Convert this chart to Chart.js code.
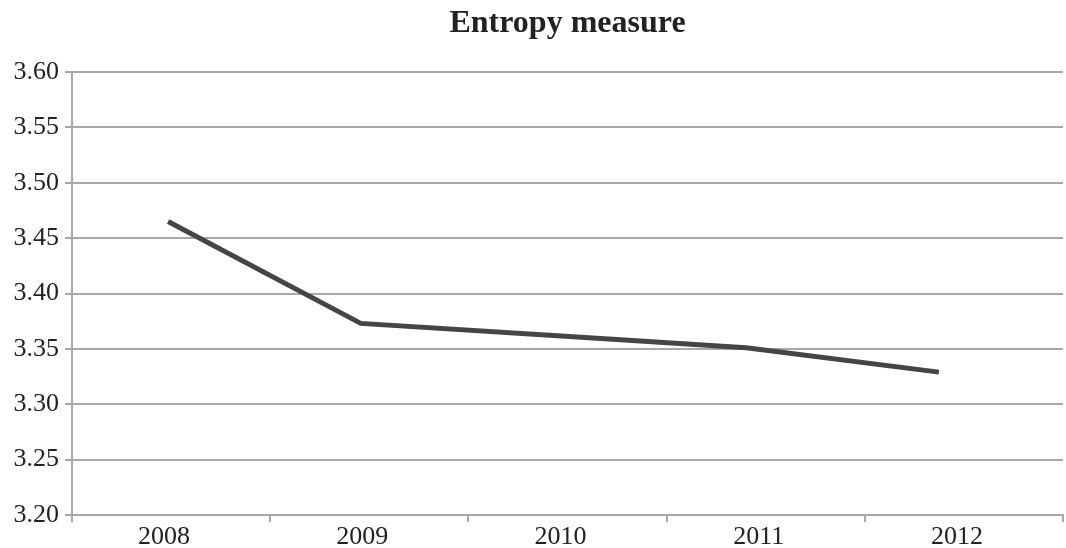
<!DOCTYPE html>
<html>
<head>
<meta charset="utf-8">
<script src="https://cdn.jsdelivr.net/npm/chart.js@4"></script>
<style>
html,body{margin:0;padding:0;background:#fff;}
#wrap{width:1066px;height:548px;position:relative;}
</style>
</head>
<body>
<div id="wrap"><canvas id="c" width="1066" height="548"></canvas></div>
<script>
const categories = ["2008", "2009", "2010", "2011", "2012"];
const entropyValues = [3.465, 3.373, 3.362, 3.351, 3.329];
const yTicks = [3.20, 3.25, 3.30, 3.35, 3.40, 3.45, 3.50, 3.55, 3.60];

const gridColor = '#a7a7ad';
const fontFamily = "'Liberation Serif', 'DejaVu Serif', serif";

new Chart(document.getElementById('c'), {
  type: 'line',
  data: {
    labels: categories,
    datasets: [{
      label: 'Entropy measure',
      data: entropyValues.map((v, i) => ({ x: i, y: v })),
      xAxisID: 'xp',
      borderColor: '#454547',
      borderWidth: 5,
      pointRadius: 0,
      tension: 0,
      fill: false
    }]
  },
  options: {
    responsive: false,
    animation: false,
    layout: { padding: { left: 0, right: 3, top: 0, bottom: 0 } },
    plugins: {
      legend: { display: false },
      tooltip: { enabled: false },
      title: {
        display: true,
        fullSize: false,
        text: 'Entropy measure',
        color: '#222',
        font: { family: fontFamily, size: 32, weight: 'bold' },
        padding: { top: 5, bottom: 28.6 }
      }
    },
    scales: {
      x: {
        type: 'category',
        offset: true,
        afterFit: (axis) => { axis.height = 33; },
        grid: { offset: true, drawOnChartArea: false, color: gridColor, lineWidth: 2, tickLength: 7 },
        border: { color: gridColor, width: 2 },
        ticks: { color: '#222', font: { family: fontFamily, size: 26 }, padding: 0, maxRotation: 0, labelOffset: -7 }
      },
      xp: {
        type: 'linear',
        display: false,
        min: -0.4987,
        max: 4.644
      },
      y: {
        min: 3.2,
        max: 3.6,
        afterBuildTicks: (axis) => { axis.ticks = yTicks.map(v => ({ value: v })); },
        afterFit: (axis) => { axis.width = 72; },
        grid: { color: gridColor, lineWidth: 2, tickLength: 7 },
        border: { color: gridColor, width: 2 },
        ticks: {
          color: '#222',
          font: { family: fontFamily, size: 26 },
          padding: 6,
          callback: (v) => Number(v).toFixed(2)
        }
      }
    }
  }
});
</script>
</body>
</html>
